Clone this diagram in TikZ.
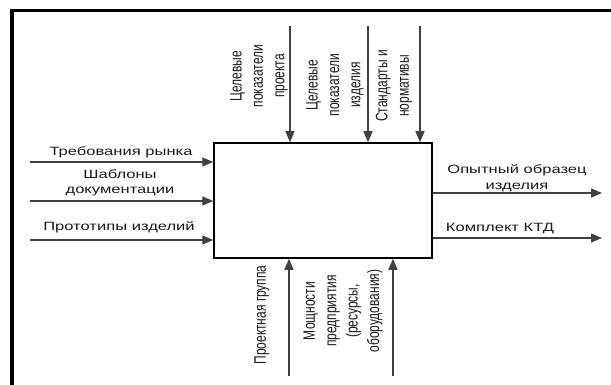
\documentclass[tikz,border=0pt]{standalone}
\usepackage{fontspec}
\setmainfont{Liberation Sans}
\usetikzlibrary{arrows.meta}
\definecolor{arrgray}{HTML}{404040}
\definecolor{txt}{HTML}{1A1A1A}
\begin{document}
\begin{tikzpicture}[x=1pt,y=-1pt,
  arr/.style={draw=arrgray, line width=1.4pt, -{Triangle[length=11pt,width=9pt]}},
  lbl/.style={font=\fontsize{12}{15.5}\selectfont, text=txt, align=center, inner sep=0pt, xscale=1.38},
  vlbl/.style={lbl, rotate=90},
  funcbox/.style={draw=black, line width=1.5pt, minimum width=218pt, minimum height=115pt, inner sep=0pt}]
\useasboundingbox (0,0) rectangle (611,385);
% frame
\draw[line width=3.5pt] (12,392) -- (12,10.5) -- (618,10.5);
% main box
\node[funcbox] (box) at (323,200.5) {};
% free ends
\coordinate (i1) at (30,162);
\coordinate (i2) at (30,201);
\coordinate (i3) at (30,240);
\coordinate (o1) at (602,193);
\coordinate (o2) at (602,238);
\coordinate (c1) at (290,26);
\coordinate (c2) at (368,26);
\coordinate (c3) at (420,26);
\coordinate (m1) at (289,376);
\coordinate (m2) at (393,376);
% arrows
\draw[arr] (i1) -- (i1 -| box.west);
\draw[arr] (i2) -- (i2 -| box.west);
\draw[arr] (i3) -- (i3 -| box.west);
\draw[arr] (o1 -| box.east) -- (o1);
\draw[arr] (o2 -| box.east) -- (o2);
\draw[arr] (c1) -- (c1 |- box.north);
\draw[arr] (c2) -- (c2 |- box.north);
\draw[arr] (c3) -- (c3 |- box.north);
\draw[arr] (m1) -- (m1 |- box.south);
\draw[arr] (m2) -- (m2 |- box.south);
% labels
\node[lbl, anchor=base] (li1) at (121,156) {Требования рынка};
\node[lbl] (li2) at (120,183) {Шаблоны\\документации};
\node[lbl, anchor=base] (li3) at (119,230) {Прототипы изделий};
\node[lbl] (lo1) at (517,178) {Опытный образец\\изделия};
\node[lbl, anchor=base] (lo2) at (500,232) {Комплект КТД};
\node[vlbl] (lc1) at (259,76) {Целевые\\показатели\\проекта};
\node[vlbl] (lc2) at (335,85) {Целевые\\показатели\\изделия};
\node[vlbl] (lc3) at (394,86) {Стандарты и\\нормативы};
\node[vlbl] (lm1) at (262,315) {Проектная группа};
\node[vlbl] (lm2) at (343,311) {Мощности\\предприятия\\(ресурсы,\\оборудования)};
\end{tikzpicture}
\end{document}
